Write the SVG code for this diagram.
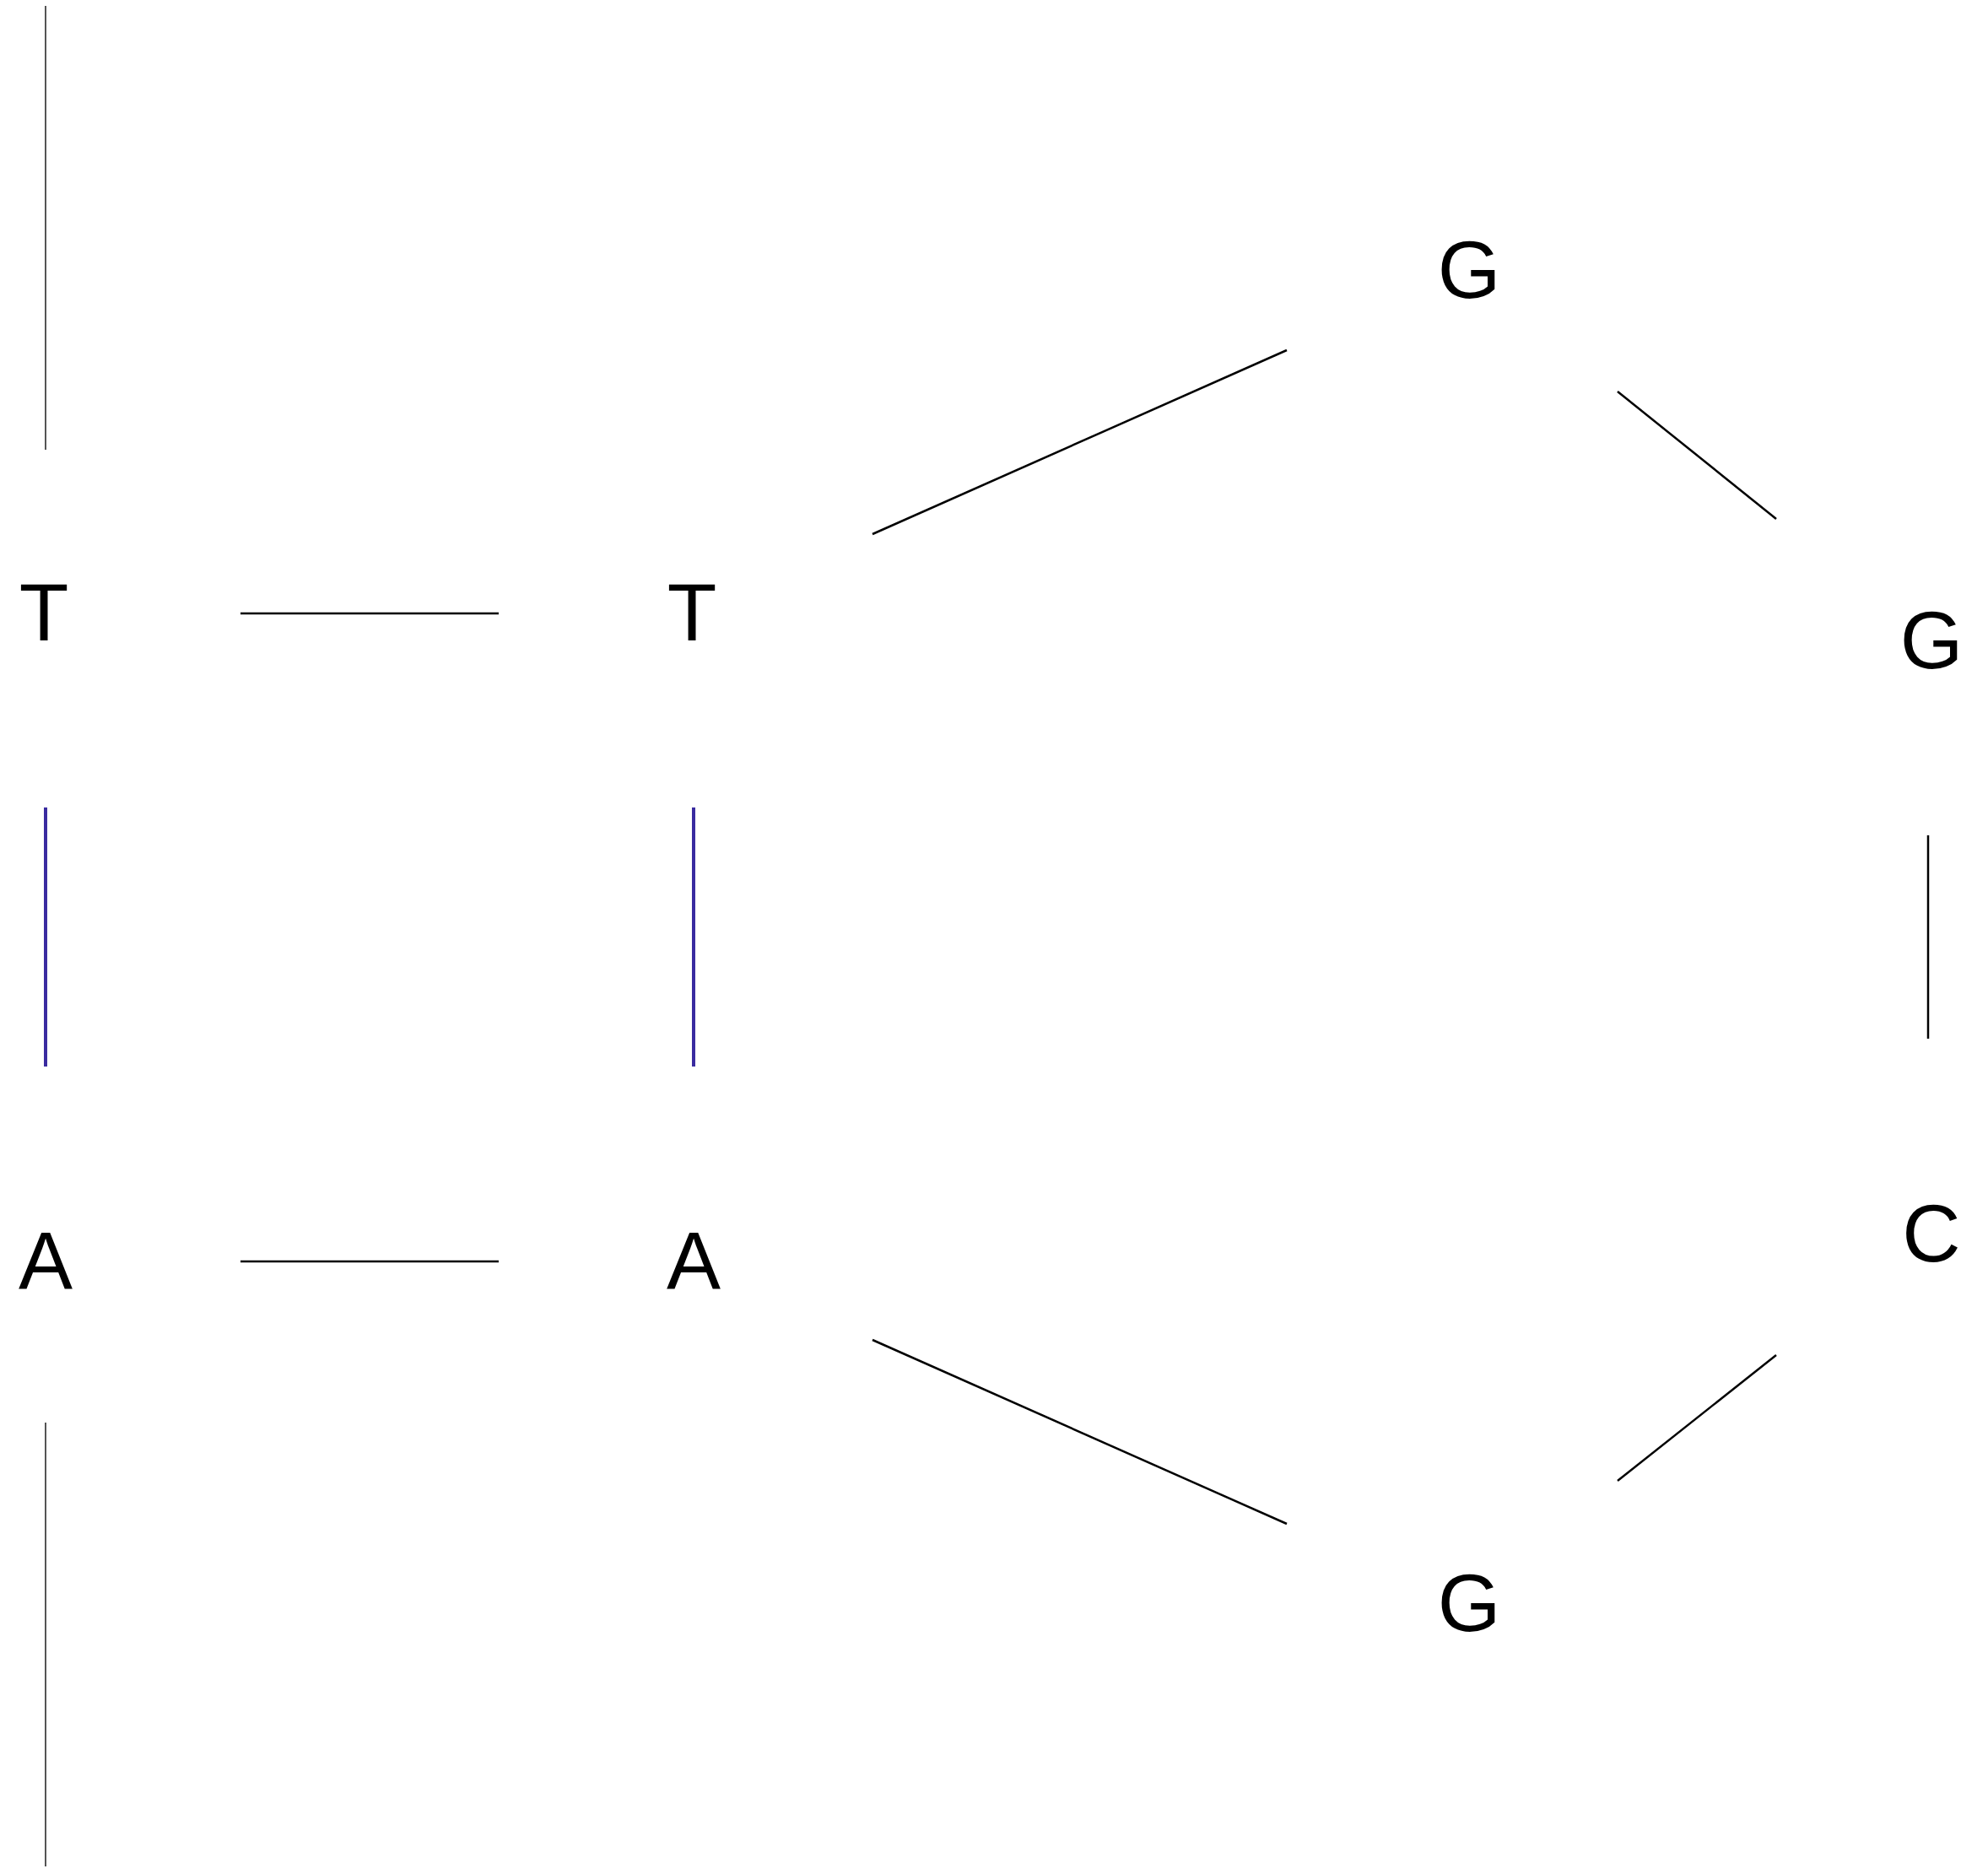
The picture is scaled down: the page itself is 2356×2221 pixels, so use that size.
<svg xmlns="http://www.w3.org/2000/svg" width="2356" height="2221" viewBox="0 0 2356 2221">
<style>
.lbl{font-family:"Liberation Sans",Arial,sans-serif;font-size:96px;fill:#000;text-anchor:middle}
.e{stroke:#000;stroke-width:2.5;fill:none}
.b{stroke:#3a2ba0;stroke-width:4;fill:none}
.g{stroke:#555;stroke-width:2;fill:none}
</style>
<rect width="2356" height="2221" fill="#fff"/>
<g id="connectors">
<line class="g" x1="54" y1="7" x2="54" y2="533"/>
<line class="g" x1="54" y1="1686" x2="54" y2="2212"/>
<line class="e" x1="285" y1="727" x2="591" y2="727"/>
<line class="e" x1="285" y1="1495" x2="591" y2="1495"/>
<line class="b" x1="54" y1="957" x2="54" y2="1264"/>
<line class="b" x1="822" y1="957" x2="822" y2="1264"/>
<line class="e" x1="1034" y1="633" x2="1525" y2="415"/>
<line class="e" x1="1917" y1="464" x2="2105" y2="615"/>
<line class="e" x1="2285" y1="990" x2="2285" y2="1231"/>
<line class="e" x1="2105" y1="1606" x2="1917" y2="1755"/>
<line class="e" x1="1034" y1="1588" x2="1525" y2="1806"/>
</g>
<g id="node-T1"><text class="lbl" x="52" y="759">T</text></g>
<g id="node-T2"><text class="lbl" x="820" y="759">T</text></g>
<g id="node-A1"><text class="lbl" x="54" y="1527">A</text></g>
<g id="node-A2"><text class="lbl" x="822" y="1527">A</text></g>
<g id="node-G1"><text class="lbl" x="1741" y="353">G</text></g>
<g id="node-G2"><text class="lbl" x="2289" y="792">G</text></g>
<g id="node-C"><text class="lbl" x="2289" y="1495">C</text></g>
<g id="node-G3"><text class="lbl" x="1741" y="1933">G</text></g>
</svg>
